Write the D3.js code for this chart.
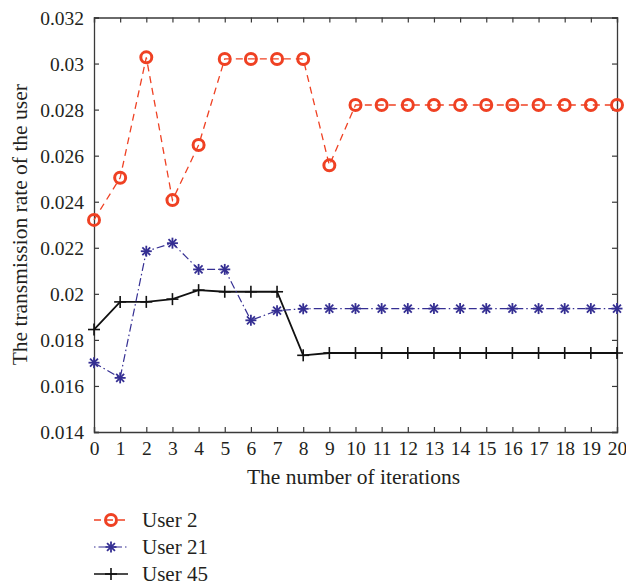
<!DOCTYPE html>
<html>
<head>
<script src="https://d3js.org/d3.v7.min.js"></script>
<style>
  body { margin: 0; background: #fff; }
  text { font-family: "Liberation Serif", "DejaVu Serif", serif; fill: #231f20; }
</style>
</head>
<body>
<script>
const iterations = d3.range(0, 21);
const user2 = [0.02321, 0.02504, 0.03027, 0.02407, 0.02646, 0.0302, 0.0302, 0.0302, 0.0302, 0.02558,
  0.0282, 0.0282, 0.0282, 0.0282, 0.0282, 0.0282, 0.0282, 0.0282, 0.0282, 0.0282, 0.0282];
const user21 = [0.01701, 0.01635, 0.02185, 0.0222, 0.02106, 0.02106, 0.01885, 0.01927, 0.01935, 0.01936,
  0.01936, 0.01936, 0.01936, 0.01936, 0.01936, 0.01936, 0.01936, 0.01936, 0.01936, 0.01936, 0.01936];
const user45 = [0.01845, 0.01965, 0.01965, 0.01977, 0.02016, 0.02009, 0.02009, 0.02009, 0.01733, 0.01743,
  0.01743, 0.01743, 0.01743, 0.01743, 0.01743, 0.01743, 0.01743, 0.01743, 0.01743, 0.01743, 0.01743];
const yTicks = [0.014, 0.016, 0.018, 0.02, 0.022, 0.024, 0.026, 0.028, 0.03, 0.032];
const seriesNames = ["User 2", "User 21", "User 45"];

const width = 626, height = 588;
const margin = { top: 17.5, right: 9, bottom: 156, left: 94 };
const w = width - margin.left - margin.right;
const h = height - margin.top - margin.bottom;

const svg = d3.select("body").append("svg")
  .attr("width", width).attr("height", height);
const g = svg.append("g").attr("transform", `translate(${margin.left},${margin.top})`);

const x = d3.scaleLinear().domain([0, 20]).range([0, w]);
const y = d3.scaleLinear().domain([0.014, 0.032]).range([h, 0]);

const axisColor = "#3a3a3a";
const fmt = d => d === 0.02 ? "0.02" : d === 0.03 ? "0.03" : d3.format(".3f")(d);

// axes with inward ticks, mirrored on top/right
const axBottom = g.append("g").attr("transform", `translate(0,${h})`)
  .call(d3.axisBottom(x).tickValues(iterations).tickSize(-5).tickPadding(9).tickFormat(d3.format("d")));
const axTop = g.append("g")
  .call(d3.axisTop(x).tickValues(iterations).tickSize(-5).tickFormat(""));
const axLeft = g.append("g")
  .call(d3.axisLeft(y).tickValues(yTicks).tickSize(-5).tickPadding(10).tickFormat(fmt));
const axRight = g.append("g").attr("transform", `translate(${w},0)`)
  .call(d3.axisRight(y).tickValues(yTicks).tickSize(-5).tickFormat(""));

[axBottom, axTop, axLeft, axRight].forEach(a => {
  a.select(".domain").attr("stroke", axisColor).attr("stroke-width", 1.3);
  a.selectAll(".tick line").attr("stroke", axisColor).attr("stroke-width", 1.2);
  a.selectAll("text").style("font-size", "19.5px").attr("fill", "#231f20")
    .style("font-family", "'Liberation Serif', 'DejaVu Serif', serif");
});
axLeft.selectAll("text").attr("dy", "0.35em");

const line = d3.line().x((d, i) => x(iterations[i])).y(d => y(d));

const red = "#ef4123", blue = "#352f93", black = "#111";

// User 45
g.append("path").datum(user45).attr("d", line)
  .attr("fill", "none").attr("stroke", black).attr("stroke-width", 1.8);
// User 21
g.append("path").datum(user21).attr("d", line)
  .attr("fill", "none").attr("stroke", blue).attr("stroke-width", 1.2)
  .attr("stroke-dasharray", "8,3,1.5,3");
// User 2
g.append("path").datum(user2).attr("d", line)
  .attr("fill", "none").attr("stroke", red).attr("stroke-width", 1.3)
  .attr("stroke-dasharray", "7,5");

function plus(sel, r) {
  sel.append("line").attr("x1", -r).attr("x2", r).attr("y1", 0).attr("y2", 0);
  sel.append("line").attr("x1", 0).attr("x2", 0).attr("y1", -r).attr("y2", r);
}
function star(sel, r) {
  plus(sel, r);
  const k = r * 0.72;
  sel.append("line").attr("x1", -k).attr("x2", k).attr("y1", -k).attr("y2", k);
  sel.append("line").attr("x1", -k).attr("x2", k).attr("y1", k).attr("y2", -k);
}

g.append("g").selectAll("g").data(user45).join("g")
  .attr("transform", (d, i) => `translate(${x(iterations[i])},${y(d)})`)
  .attr("stroke", black).attr("stroke-width", 1.6)
  .each(function () { plus(d3.select(this), 6); });

g.append("g").selectAll("g").data(user21).join("g")
  .attr("transform", (d, i) => `translate(${x(iterations[i])},${y(d)})`)
  .attr("stroke", blue).attr("stroke-width", 1.8)
  .each(function () { star(d3.select(this), 5.5); });

g.append("g").selectAll("circle").data(user2).join("circle")
  .attr("cx", (d, i) => x(iterations[i])).attr("cy", d => y(d))
  .attr("r", 5.5).attr("fill", "none").attr("stroke", red).attr("stroke-width", 3);

// axis titles
svg.append("text").attr("x", margin.left + w / 2 - 2).attr("y", 484)
  .attr("text-anchor", "middle").style("font-size", "21.5px").text("The number of iterations");
svg.append("text").attr("transform", `translate(27,${margin.top + h / 2}) rotate(-90)`)
  .attr("text-anchor", "middle").style("font-size", "21.5px").text("The transmission rate of the user");

// legend
const legend = svg.append("g").attr("transform", "translate(94,520)");
const rowGap = 27;
seriesNames.forEach((name, i) => {
  const row = legend.append("g").attr("transform", `translate(0,${i * rowGap})`);
  if (i === 0) {
    row.append("line").attr("x1", 0).attr("x2", 34).attr("stroke", red).attr("stroke-width", 1.3)
      .attr("stroke-dasharray", "7,5");
    row.append("circle").attr("cx", 17).attr("r", 5.5).attr("fill", "none")
      .attr("stroke", red).attr("stroke-width", 3);
  } else if (i === 1) {
    row.append("line").attr("x1", 0).attr("x2", 34).attr("stroke", blue).attr("stroke-width", 1.2)
      .attr("stroke-dasharray", "1.5,3,8,3");
    const m = row.append("g").attr("transform", "translate(17,0)").attr("stroke", blue).attr("stroke-width", 1.8);
    star(m, 5.5);
  } else {
    row.append("line").attr("x1", 0).attr("x2", 34).attr("stroke", black).attr("stroke-width", 1.6);
    const m = row.append("g").attr("transform", "translate(17,0)").attr("stroke", black).attr("stroke-width", 1.6);
    plus(m, 6);
  }
  row.append("text").attr("x", 48).attr("dy", "0.35em").style("font-size", "21px").text(name);
});
</script>
</body>
</html>
